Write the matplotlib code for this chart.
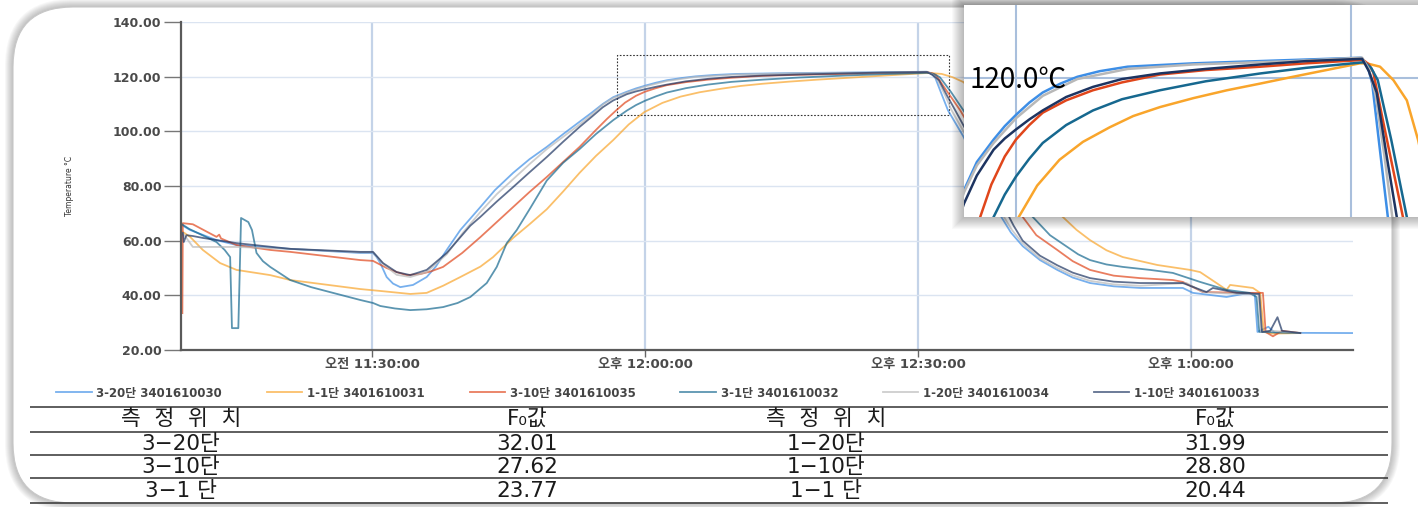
import matplotlib
matplotlib.use("Agg")
import matplotlib.pyplot as plt
from matplotlib.patches import FancyBboxPatch, Rectangle
from matplotlib.transforms import IdentityTransform

plt.rcParams['font.family'] = ['DejaVu Sans', 'Noto Sans CJK KR']

# ---- data: minutes after 11:00, temperature in C ----
t_3_20 = [9.1, 10.0, 12.9, 15.1, 21.0, 28.7, 30.1, 30.5, 30.9, 31.6, 32.3, 33.1, 34.5, 36.0,
          37.0, 38.2, 39.7, 41.9, 43.5, 45.5, 47.3, 49.2, 51.0, 52.8, 54.2, 55.35, 56.5, 58.0,
          59.0, 60.0, 61.2, 62.4, 64.0, 65.5, 67.5, 70.0, 75.9, 84.8, 90.9, 91.5, 91.9, 92.6,
          93.3, 95.0, 97.0, 99.0, 100.2, 101.5, 103.4, 105.3, 107.0, 108.9, 111.5, 114.4,
          119.1, 120.2, 123.9, 126.4, 127.0, 127.3, 128.5, 129.2, 137.7]
v_3_20 = [65.7, 63.9, 60.2, 58.4, 57.0, 55.5, 55.5, 54.0, 51.8, 46.7, 44.3, 43.0, 43.8, 46.7,
          50.5, 56.6, 63.9, 72.3, 78.5, 84.8, 89.8, 94.3, 99.0, 103.5, 107.0, 110.0, 112.5, 114.5,
          115.7, 116.7, 117.8, 118.7, 119.5, 120.1, 120.6, 121.0, 121.3, 121.6, 121.8, 121.0, 119.5, 113.5,
          107.6, 98.0, 84.0, 69.5, 63.0, 58.0, 52.9, 49.3, 46.5, 44.5, 43.3, 42.7,
          42.7, 40.9, 39.4, 40.9, 40.5, 26.6, 28.5, 26.3, 26.2]

t_1_1 = [9.2, 10.0, 11.4, 13.3, 15.1, 18.8, 21.0, 28.7, 30.9, 34.2, 36.0, 37.8, 39.7, 41.9,
         43.3, 45.5, 47.3, 49.2, 51.0, 52.8, 54.6, 56.5, 58.2, 59.9, 61.9, 63.9, 66.0, 68.4,
         70.5, 72.9, 75.9, 78.9, 81.9, 84.8, 87.8, 90.8, 91.4, 92.6, 93.8, 95.0, 96.0, 97.0,
         98.0, 100.0, 102.0, 104.0, 105.9, 107.4, 108.9, 110.7, 112.5, 116.3, 119.9, 121.0,
         122.8, 123.9, 124.3, 126.8, 127.6, 128.0, 129.0, 132.0]
v_1_1 = [63.2, 61.4, 56.6, 51.8, 49.3, 47.4, 45.6, 42.3, 41.6, 40.5, 40.9, 43.5, 46.7, 50.5,
         54.0, 61.0, 66.0, 71.5, 78.0, 84.8, 91.0, 96.8, 102.5, 107.0, 110.4, 112.7, 114.3, 115.6,
         116.6, 117.4, 118.2, 118.9, 119.5, 120.1, 120.7, 121.3, 121.3, 121.0, 119.8, 118.0, 114.5, 110.0,
         105.0, 94.0, 83.0, 75.0, 68.7, 64.0, 60.2, 56.5, 54.0, 51.1, 49.3, 48.5,
         44.5, 42.0, 43.8, 42.7, 40.9, 26.6, 26.0, 26.2]

t_3_10 = [9.15, 9.2, 10.3, 12.9, 13.2, 13.4, 15.1, 18.8, 21.0, 28.7, 30.1, 31.6, 32.7, 33.8,
          35.3, 36.5, 37.8, 39.9, 41.9, 43.7, 45.5, 47.3, 49.2, 51.0, 52.8, 54.6, 55.8, 56.8,
          57.8, 59.0, 60.0, 61.2, 62.4, 64.5, 66.9, 69.5, 72.9, 77.0, 81.9, 86.0, 91.1, 91.6,
          92.0, 92.8, 94.65, 96.5, 98.5, 100.5, 101.5, 103.0, 105.3, 107.0, 108.9, 111.5,
          114.4, 118.0, 119.1, 121.3, 126.4, 127.9, 128.2, 129.0, 130.0, 132.0]
v_3_10 = [33.5, 66.4, 66.0, 61.4, 62.2, 60.8, 58.4, 56.6, 55.9, 52.9, 52.6, 50.0, 48.5, 47.4,
          47.8, 48.8, 50.4, 55.5, 61.3, 66.8, 72.3, 77.8, 83.3, 88.8, 94.3, 100.5, 104.5, 107.6,
          110.5, 113.0, 114.5, 115.8, 116.9, 118.0, 118.9, 119.6, 120.3, 120.7, 121.0, 121.3, 121.6, 121.2,
          120.5, 116.5, 107.6, 97.0, 85.0, 73.0, 68.7, 62.0, 56.6, 52.5, 49.3, 47.2,
          46.3, 45.6, 44.9, 41.2, 40.9, 40.9, 26.6, 25.0, 27.0, 26.2]

t_3_1 = [9.1, 9.9, 12.9, 13.8, 14.4, 14.6, 15.3, 15.6, 16.4, 16.8, 17.3, 18.0, 18.8, 21.0,
         23.3, 25.7, 28.7, 30.1, 30.9, 32.5, 34.2, 36.0, 37.8, 39.4, 40.8, 42.6, 43.7, 44.8,
         45.9, 47.4, 49.2, 51.0, 52.8, 54.6, 56.5, 58.0, 59.0, 60.0, 61.2, 62.4, 64.5, 66.9,
         69.5, 72.9, 77.0, 81.9, 86.0, 91.2, 91.8, 92.4, 93.6, 95.0, 97.0, 99.0, 101.0, 102.6,
         104.5, 106.4, 107.6, 108.9, 110.7, 112.5, 115.5, 118.0, 121.0, 123.9, 126.4, 127.2,
         127.5, 132.0]
v_3_1 = [66.0, 64.3, 59.5, 56.6, 54.0, 28.0, 28.0, 68.3, 66.8, 63.9, 55.5, 52.5, 50.4, 45.6,
         43.0, 40.9, 38.3, 37.2, 36.1, 35.2, 34.6, 34.9, 35.7, 37.2, 39.4, 44.5, 50.4, 59.1,
         63.9, 72.0, 82.0, 88.5, 93.5, 99.0, 104.1, 107.6, 109.6, 111.2, 112.8, 114.2, 115.8, 117.1,
         118.1, 118.9, 119.7, 120.4, 120.9, 121.4, 120.9, 119.8, 114.5, 107.6, 97.0, 86.0, 75.0, 68.7,
         62.0, 57.7, 55.0, 52.9, 51.3, 50.4, 49.3, 48.2, 44.9, 42.0, 40.9, 39.4,
         26.6, 26.2]

t_1_20 = [9.2, 10.3, 15.1, 21.0, 28.7, 30.1, 31.2, 32.7, 34.2, 36.0, 38.2, 40.0, 41.9, 43.7,
          45.5, 47.3, 49.2, 51.0, 52.8, 54.2, 55.35, 56.5, 58.0, 60.0, 62.4, 65.5, 70.0, 75.9,
          84.8, 91.0, 91.6, 92.2, 93.0, 93.7, 95.5, 97.5, 99.2, 100.3, 101.5, 103.4, 105.3,
          107.0, 108.9, 111.5, 114.4, 119.5, 121.3, 125.0, 127.4, 127.7, 129.0, 132.0]
v_1_20 = [62.8, 57.7, 57.7, 57.0, 55.7, 55.7, 51.5, 47.5, 46.7, 48.5, 55.0, 63.0, 70.5, 77.0,
          82.5, 88.0, 93.5, 98.0, 102.5, 106.3, 109.8, 112.2, 114.2, 116.4, 118.4, 119.9, 120.8, 121.2,
          121.5, 121.8, 120.8, 118.5, 113.0, 107.6, 97.0, 83.0, 70.0, 64.0, 59.0, 53.5, 50.0,
          47.3, 45.3, 44.0, 43.5, 44.5, 41.2, 40.5, 40.5, 26.6, 27.0, 26.2]

t_1_10 = [9.2, 9.3, 9.6, 10.3, 11.4, 15.1, 21.0, 28.7, 30.1, 31.2, 32.7, 34.2, 36.0, 38.2,
          40.8, 41.9, 43.7, 45.5, 47.3, 49.2, 51.0, 52.8, 54.2, 55.35, 56.5, 58.0, 59.0, 60.0,
          61.2, 62.4, 64.5, 66.9, 69.5, 72.9, 77.0, 81.9, 86.0, 91.0, 91.6, 92.3, 93.2, 94.1,
          96.0, 98.0, 99.5, 100.5, 101.5, 103.4, 105.3, 107.0, 108.9, 111.5, 114.4, 119.1,
          121.7, 122.4, 125.0, 127.5, 127.8, 128.7, 129.5, 130.0, 132.0]
v_1_10 = [62.8, 59.5, 62.0, 61.7, 61.0, 59.1, 57.0, 55.9, 55.9, 51.8, 48.5, 47.4, 49.3, 55.5,
          65.5, 68.7, 74.3, 79.6, 85.0, 90.6, 96.2, 101.6, 105.5, 108.8, 111.3, 113.6, 114.6, 115.4,
          116.3, 117.1, 118.3, 119.2, 119.9, 120.4, 120.8, 121.2, 121.5, 121.7, 120.6, 118.7, 113.0, 107.6,
          96.0, 83.0, 72.0, 65.5, 60.0, 54.5, 51.0, 48.3, 46.3, 45.0, 44.5, 44.5,
          41.2, 42.7, 40.9, 40.5, 26.6, 27.0, 32.0, 27.0, 26.2]

series = [
    ("3-20단 3401610030", t_3_20, v_3_20, '#3d8ee6'),
    ("1-1단 3401610031", t_1_1, v_1_1, '#f9a52b'),
    ("3-10단 3401610035", t_3_10, v_3_10, '#e0461b'),
    ("3-1단 3401610032", t_3_1, v_3_1, '#16688f'),
    ("1-20단 3401610034", t_1_20, v_1_20, '#b8b8b8'),
    ("1-10단 3401610033", t_1_10, v_1_10, '#1d3461'),
]

x_ticks = [30, 60, 90, 120]
x_labels = ["오전 11:30:00", "오후 12:00:00", "오후 12:30:00", "오후 1:00:00"]
y_ticks = [20, 40, 60, 80, 100, 120, 140]

tbl_header = ["측  정  위  치", "F₀값", "측  정  위  치", "F₀값"]
pos_left = ["3−20단", "3−10단", "3−1 단"]
f0_left = ["32.01", "27.62", "23.77"]
pos_right = ["1−20단", "1−10단", "1−1 단"]
f0_right = ["31.99", "28.80", "20.44"]

W, H = 1418, 507
fig = plt.figure(figsize=(W / 100, H / 100), dpi=100)
fig.patch.set_facecolor('white')


def fx(px):
    return px / W


def fy(py):
    return 1 - py / H


# rounded picture frame with soft shadow
for k in range(8, 0, -1):
    fig.patches.append(FancyBboxPatch((13 - k, 4 - k), 1379 + 2 * k, 496 + 2 * k,
                                      boxstyle="round,pad=0,rounding_size=%d" % (60 + k),
                                      transform=IdentityTransform(), fc='black', ec='none',
                                      alpha=0.03, zorder=-10))
fig.patches.append(FancyBboxPatch((13, 4), 1379, 496, boxstyle="round,pad=0,rounding_size=60",
                                  transform=IdentityTransform(), fc='white', ec='#c8c8c8',
                                  lw=0.8, zorder=-9))

# main chart
ax = fig.add_axes([fx(181), fy(350), fx(1353) - fx(181), fy(22) - fy(350)])
ax.set_facecolor('none')
handles = []
for label, t, v, c in series:
    ln, = ax.plot(t, v, color=c, lw=1.3, alpha=0.7, label=label)
    handles.append(ln)
ax.set_xlim(9, 137.8)
ax.set_ylim(20, 140)
ax.set_xticks(x_ticks)
ax.set_xticklabels(x_labels)
ax.set_yticks(y_ticks)
ax.set_yticklabels(["%.2f" % y for y in y_ticks])
ax.tick_params(axis='y', length=12, width=1, color='#777777', pad=2, labelsize=9,
               labelcolor='#4a4a4a')
ax.tick_params(axis='x', length=5, width=1, color='#666666', pad=1, labelsize=9.5,
               labelcolor='#4a4a4a')
for lab in ax.get_xticklabels() + ax.get_yticklabels():
    lab.set_fontweight('bold')
for s in ['top', 'right']:
    ax.spines[s].set_visible(False)
for s in ['left', 'bottom']:
    ax.spines[s].set_color('#5a5a5a')
    ax.spines[s].set_linewidth(1.6)
ax.yaxis.grid(True, color='#dbe4f1', lw=1.0)
ax.xaxis.grid(True, color='#c4d3e8', lw=1.6)
ax.set_axisbelow(True)
ax.add_patch(Rectangle((56.9, 106.0), 36.5, 21.9, fill=False, ec='#333333', lw=0.8,
                       ls=(0, (1.5, 1.5))))
fig.text(fx(70), fy(186), "Temperature °C", rotation=90, ha='center', va='center',
         fontsize=5.5, color='#333333')

# legend
fig.legend(handles=handles, loc='center', bbox_to_anchor=(fx(658), fy(393)), ncol=6,
           frameon=False, handlelength=3.0, handletextpad=0.4, columnspacing=3.8,
           prop={'size': 8.5, 'weight': 'bold'}, labelcolor='#444444')

# zoomed inset with shadow
for k in range(12, 0, -1):
    fig.patches.append(Rectangle((964 - k, 290 - k), 454 + 2 * k, 212 + 2 * k,
                                 transform=IdentityTransform(), fc='black', ec='none',
                                 alpha=0.022, zorder=4))
axi = fig.add_axes([fx(964), fy(217), fx(1418) - fx(964), fy(5) - fy(217)], zorder=5)
axi.set_facecolor('white')
for label, t, v, c in series:
    axi.plot(t, v, color=c, lw=1.8)
axi.set_xlim(55.35, 96.0)
axi.set_ylim(107.6, 126.5)
axi.set_xticks([60, 90])
axi.set_yticks([120])
axi.tick_params(length=0, labelbottom=False, labelleft=False)
axi.grid(True, color='#a9bfdc', lw=1.5)
axi.set_axisbelow(True)
for s in axi.spines.values():
    s.set_visible(False)
axi.text(0.013, 0.646, "120.0℃", transform=axi.transAxes, ha='left', va='center',
         fontsize=20, color='black', family=['Noto Sans CJK KR', 'DejaVu Sans'])

# F0 table
tab = fig.add_axes([fx(30), fy(505), fx(1388) - fx(30), fy(405) - fy(505)])
tab.set_xlim(30, 1388)
tab.set_ylim(505, 405)
tab.axis('off')
for yl in [407, 432, 455, 478, 503]:
    tab.axhline(yl, color='#333333', lw=1.1)
col_x = [181, 527, 826, 1215]
row_y = [419, 444, 467, 491]
for cx, txt in zip(col_x, tbl_header):
    tab.text(cx, row_y[0], txt, ha='center', va='center', fontsize=15.5, color='#1a1a1a')
for i in range(3):
    cells = [pos_left[i], f0_left[i], pos_right[i], f0_right[i]]
    for cx, txt in zip(col_x, cells):
        tab.text(cx, row_y[i + 1], txt, ha='center', va='center', fontsize=15.5,
                 color='#1a1a1a')

fig.savefig("out.png", dpi=100)
